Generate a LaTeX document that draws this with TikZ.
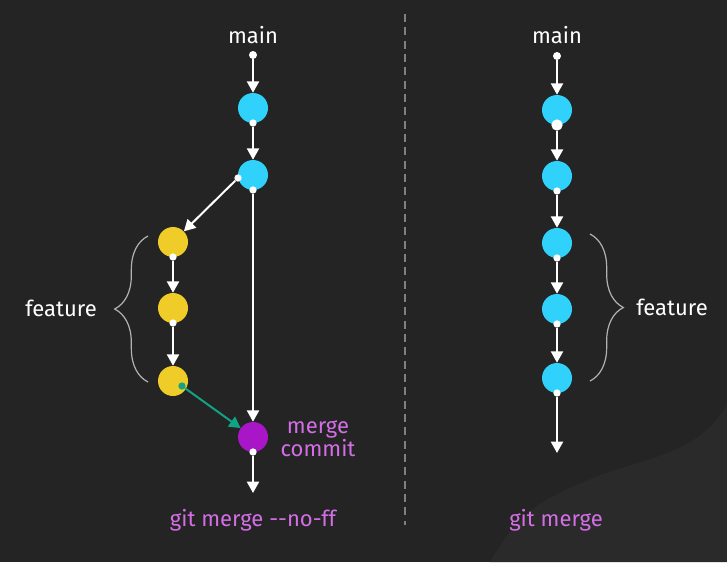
\documentclass[tikz,border=0pt]{standalone}
\usepackage{fontspec}
\setmainfont{Fira Sans}
\usetikzlibrary{arrows.meta,decorations.pathreplacing}
\definecolor{bgcol}{HTML}{242424}
\definecolor{swoosh}{HTML}{2A2A2A}
\definecolor{commitblue}{HTML}{30D2FC}
\definecolor{commityellow}{HTML}{F0CC28}
\definecolor{commitpurple}{HTML}{A816C8}
\definecolor{labelpink}{HTML}{D46EE6}
\definecolor{mergeteal}{HTML}{12A286}
\tikzset{
	commit/.style={circle, minimum size=22.5pt, inner sep=0pt},
	dot/.style={circle, fill=white, minimum size=5.5pt, inner sep=0pt},
	link/.style={draw=white, line width=1.5pt, -{Triangle[width=9pt,length=8.5pt]}},
	curly/.style={draw=white!70!black, line width=0.9pt, decorate, decoration={brace, amplitude=25pt}},
	lbl/.style={text=white, font=\fontsize{16.5}{18}\selectfont},
	pinklbl/.style={text=labelpink, font=\fontsize{16.5}{13.5}\selectfont, align=center}
}

\begin{document}
\begin{tikzpicture}[x=0.75pt, y=-0.75pt]
		%%%%% START %%%%%
		\fill[bgcol] (0, 0) rectangle (727, 562);
		\useasboundingbox (0, 0) rectangle (727, 562);
		\fill[swoosh] (490, 562) .. controls (520, 510) and (540, 500) .. (600, 475) .. controls (660, 455) and (700, 450) .. (727, 405) -- (727, 562) -- cycle;
		
		\draw[gray, line width=1.5pt, dash pattern=on 6pt off 4pt] (405, 14) -- (405, 525);
		
		% left: git merge --no-ff
		\node[lbl] (mainL) at (253, 35) {main};
		\node[dot, minimum size=6pt] (s0) at (253, 55) {};
		\node[commit, fill=commitblue] (m1) at (253, 108) {};
		\node[commit, fill=commitblue] (m2) at (253, 175) {};
		\node[dot] (s1) at (253, 123) {};
		\node[dot] (s2) at (253, 190) {};
		\node[dot] (s2b) at (238, 178) {};
		\draw[link] (s0) -- (m1);
		\draw[link] (s1) -- (m2);
		
		\node[commit, fill=commityellow] (f1) at (173, 242) {};
		\node[commit, fill=commityellow] (f2) at (173, 308) {};
		\node[commit, fill=commityellow] (f3) at (173, 381) {};
		\node[dot] (t1) at (173, 257) {};
		\node[dot] (t2) at (173, 323) {};
		\node[dot, fill=mergeteal] (t3) at (182, 386) {};
		\draw[link] (s2b) -- (f1);
		\draw[link] (t1) -- (f2);
		\draw[link] (t2) -- (f3);
		
		\node[commit, fill=commitpurple] (mc) at (253, 437) {};
		\node[dot] (s3) at (253, 452) {};
		\coordinate (endL) at (253, 493);
		\draw[link] (s2) -- (mc);
		\draw[link, draw=mergeteal, fill=mergeteal] (t3) -- (mc);
		\draw[link] (s3) -- (endL);
		
		\draw[curly] (148, 382) -- (148, 236);
		\node[lbl] (featL) at (61, 308) {feature};
		\node[pinklbl] (mcl) at (318, 439) {merge\\commit};
		\node[pinklbl] (cmdL) at (253, 520) {git merge -{}-no-ff};
		
		% right: git merge
		\node[lbl] (mainR) at (557, 35) {main};
		\node[dot, minimum size=6pt] (r0) at (557, 56) {};
		\foreach \y [count=\i] in {110, 176, 243, 309, 378} {
			\node[commit, fill=commitblue] (n\i) at (557, \y) {};
		}
		\node[dot, minimum size=8.5pt] (b1) at (557, 125) {};
		\foreach \y [count=\i from 2] in {191, 258, 324, 393} {
			\node[dot] (b\i) at (557, \y) {};
		}
		\coordinate (endR) at (557, 453);
		\draw[link] (r0) -- (n1);
		\draw[link] (b1) -- (n2);
		\draw[link] (b2) -- (n3);
		\draw[link] (b3) -- (n4);
		\draw[link] (b4) -- (n5);
		\draw[link] (b5) -- (endR);
		
		\draw[curly] (590, 234) -- (590, 381);
		\node[lbl] (featR) at (672, 307) {feature};
		\node[pinklbl] (cmdR) at (556, 520) {git merge};
		%%%%% END %%%%%
	\end{tikzpicture}
\end{document}
